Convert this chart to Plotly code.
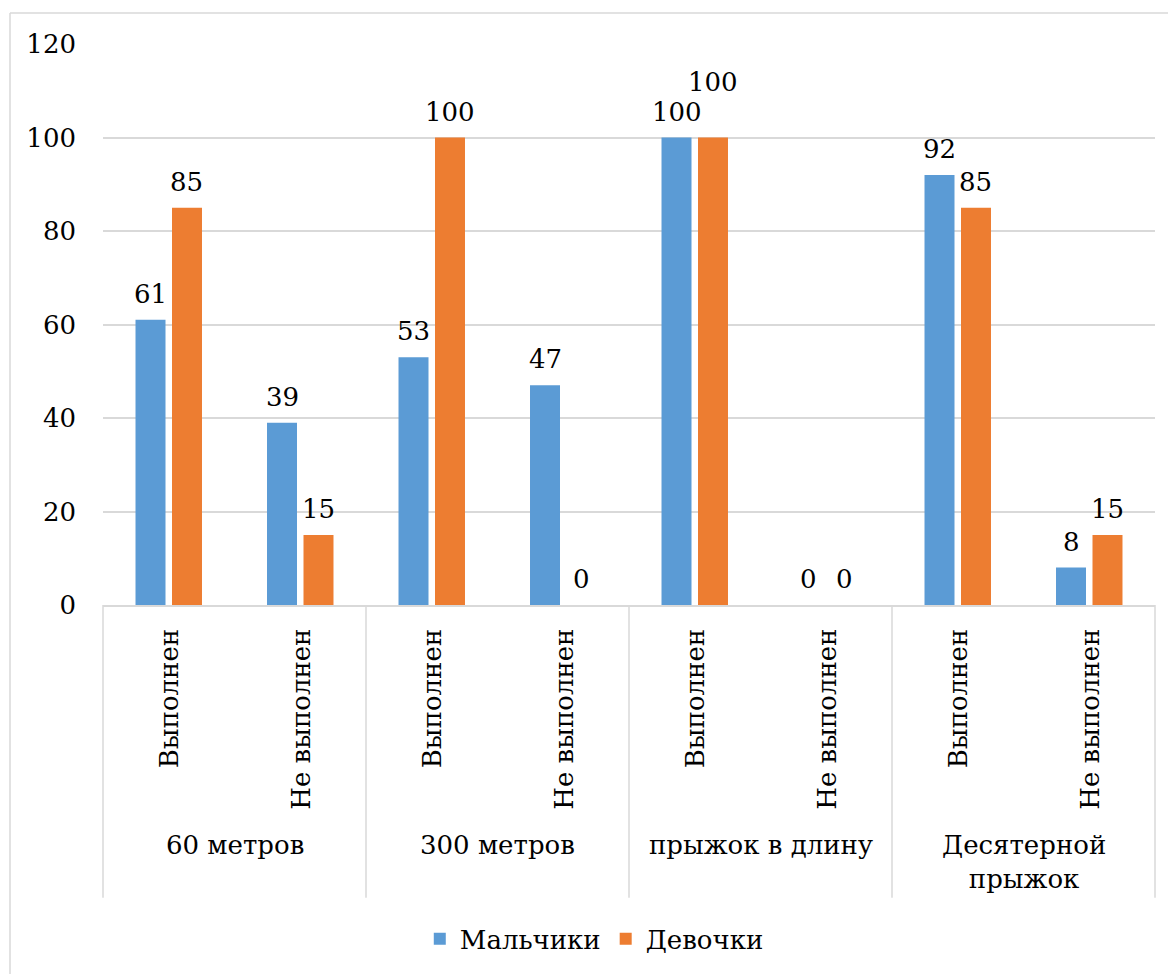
import plotly.graph_objects as go

# Results of the athletics standards, % of pupils
groups = ["60 метров", "300 метров", "прыжок в длину", "Десятерной<br>прыжок"]
outcomes = ["Выполнен", "Не выполнен"]
boys = [61, 39, 53, 47, 100, 0, 92, 8]
girls = [85, 15, 100, 0, 100, 0, 85, 15]
y_ticks = [0, 20, 40, 60, 80, 100, 120]

BLUE = "#5B9BD5"
ORANGE = "#ED7D31"
GRID = "#D9D9D9"
FONT = "DejaVu Serif"
FS = 26

# one x category per (group, outcome) pair
keys = [f"{g}|{o}" for g in groups for o in outcomes]
n = len(keys)

fig = go.Figure()
fig.add_trace(go.Bar(x=keys, y=boys, name="Мальчики", marker_color=BLUE,
                     marker_line_width=0))
fig.add_trace(go.Bar(x=keys, y=girls, name="Девочки", marker_color=ORANGE,
                     marker_line_width=0))

annotations = []

# value labels above the bars
for series, dx, name in ((boys, -18, "b"), (girls, 18, "g")):
    for i, (k, v) in enumerate(zip(keys, series)):
        shift = 26
        # the two 100s over "прыжок в длину" would collide, lift the girls' one
        if name == "g" and v == 100 and boys[i] == 100:
            shift += 30
        annotations.append(dict(x=k, y=v, xref="x", yref="y", text=str(v),
                                showarrow=False, xshift=dx, yshift=shift,
                                yanchor="middle",
                                font=dict(family=FONT, size=FS, color="#000")))

# rotated outcome labels under each pair of bars
for k in keys:
    annotations.append(dict(x=k, y=0, xref="x", yref="paper",
                            text=k.split("|")[1], textangle=-90,
                            showarrow=False, xanchor="center", yanchor="top",
                            yshift=-22, xshift=0,
                            font=dict(family=FONT, size=FS, color="#000")))

# group labels, centred between the two outcomes of each group
for gi, g in enumerate(groups):
    annotations.append(dict(x=2 * gi + 0.5, y=0, xref="x", yref="paper",
                            text=g, showarrow=False, xanchor="center",
                            yanchor="top", yshift=-223,
                            font=dict(family=FONT, size=FS, color="#000")))

shapes = []
# separators between groups, running down through the label area
for gi in range(len(groups) + 1):
    xp = gi * 2 / n
    shapes.append(dict(type="line", xref="paper", yref="paper",
                       x0=xp, x1=xp, y0=0, y1=-0.522,
                       line=dict(color=GRID, width=1.5)))

# light frame of the chart area (top and left edges)
shapes.append(dict(type="line", xref="paper", yref="paper",
                   x0=-0.0884, x1=1.2, y0=1.0551, y1=1.0551,
                   line=dict(color=GRID, width=1.5)))
shapes.append(dict(type="line", xref="paper", yref="paper",
                   x0=-0.0884, x1=-0.0884, y0=1.0551, y1=-0.9,
                   line=dict(color=GRID, width=1.5)))

fig.update_layout(
    width=1168, height=974,
    margin=dict(l=103, r=13, t=44, b=367),
    paper_bgcolor="white", plot_bgcolor="white",
    barmode="group", bargap=0.445, bargroupgap=0.178,
    font=dict(family=FONT, size=FS, color="#000"),
    showlegend=True,
    legend=dict(orientation="h", x=0.467, xanchor="center",
                y=-0.595, yanchor="middle",
                font=dict(family=FONT, size=FS, color="#000"),
                itemsizing="constant", traceorder="normal"),
    annotations=annotations,
    shapes=shapes,
)
fig.update_xaxes(type="category", showticklabels=False, showgrid=False,
                 showline=True, linecolor=GRID, linewidth=1.5,
                 range=[-0.5, n - 0.5], zeroline=False, ticks="")
fig.update_yaxes(range=[0, 120], tickvals=y_ticks, showgrid=True,
                 gridcolor=GRID, gridwidth=1.5, zeroline=False,
                 showline=False, ticks="", ticklabelstandoff=26,
                 tickfont=dict(family=FONT, size=FS, color="#000"))

fig.write_html("out.html")
